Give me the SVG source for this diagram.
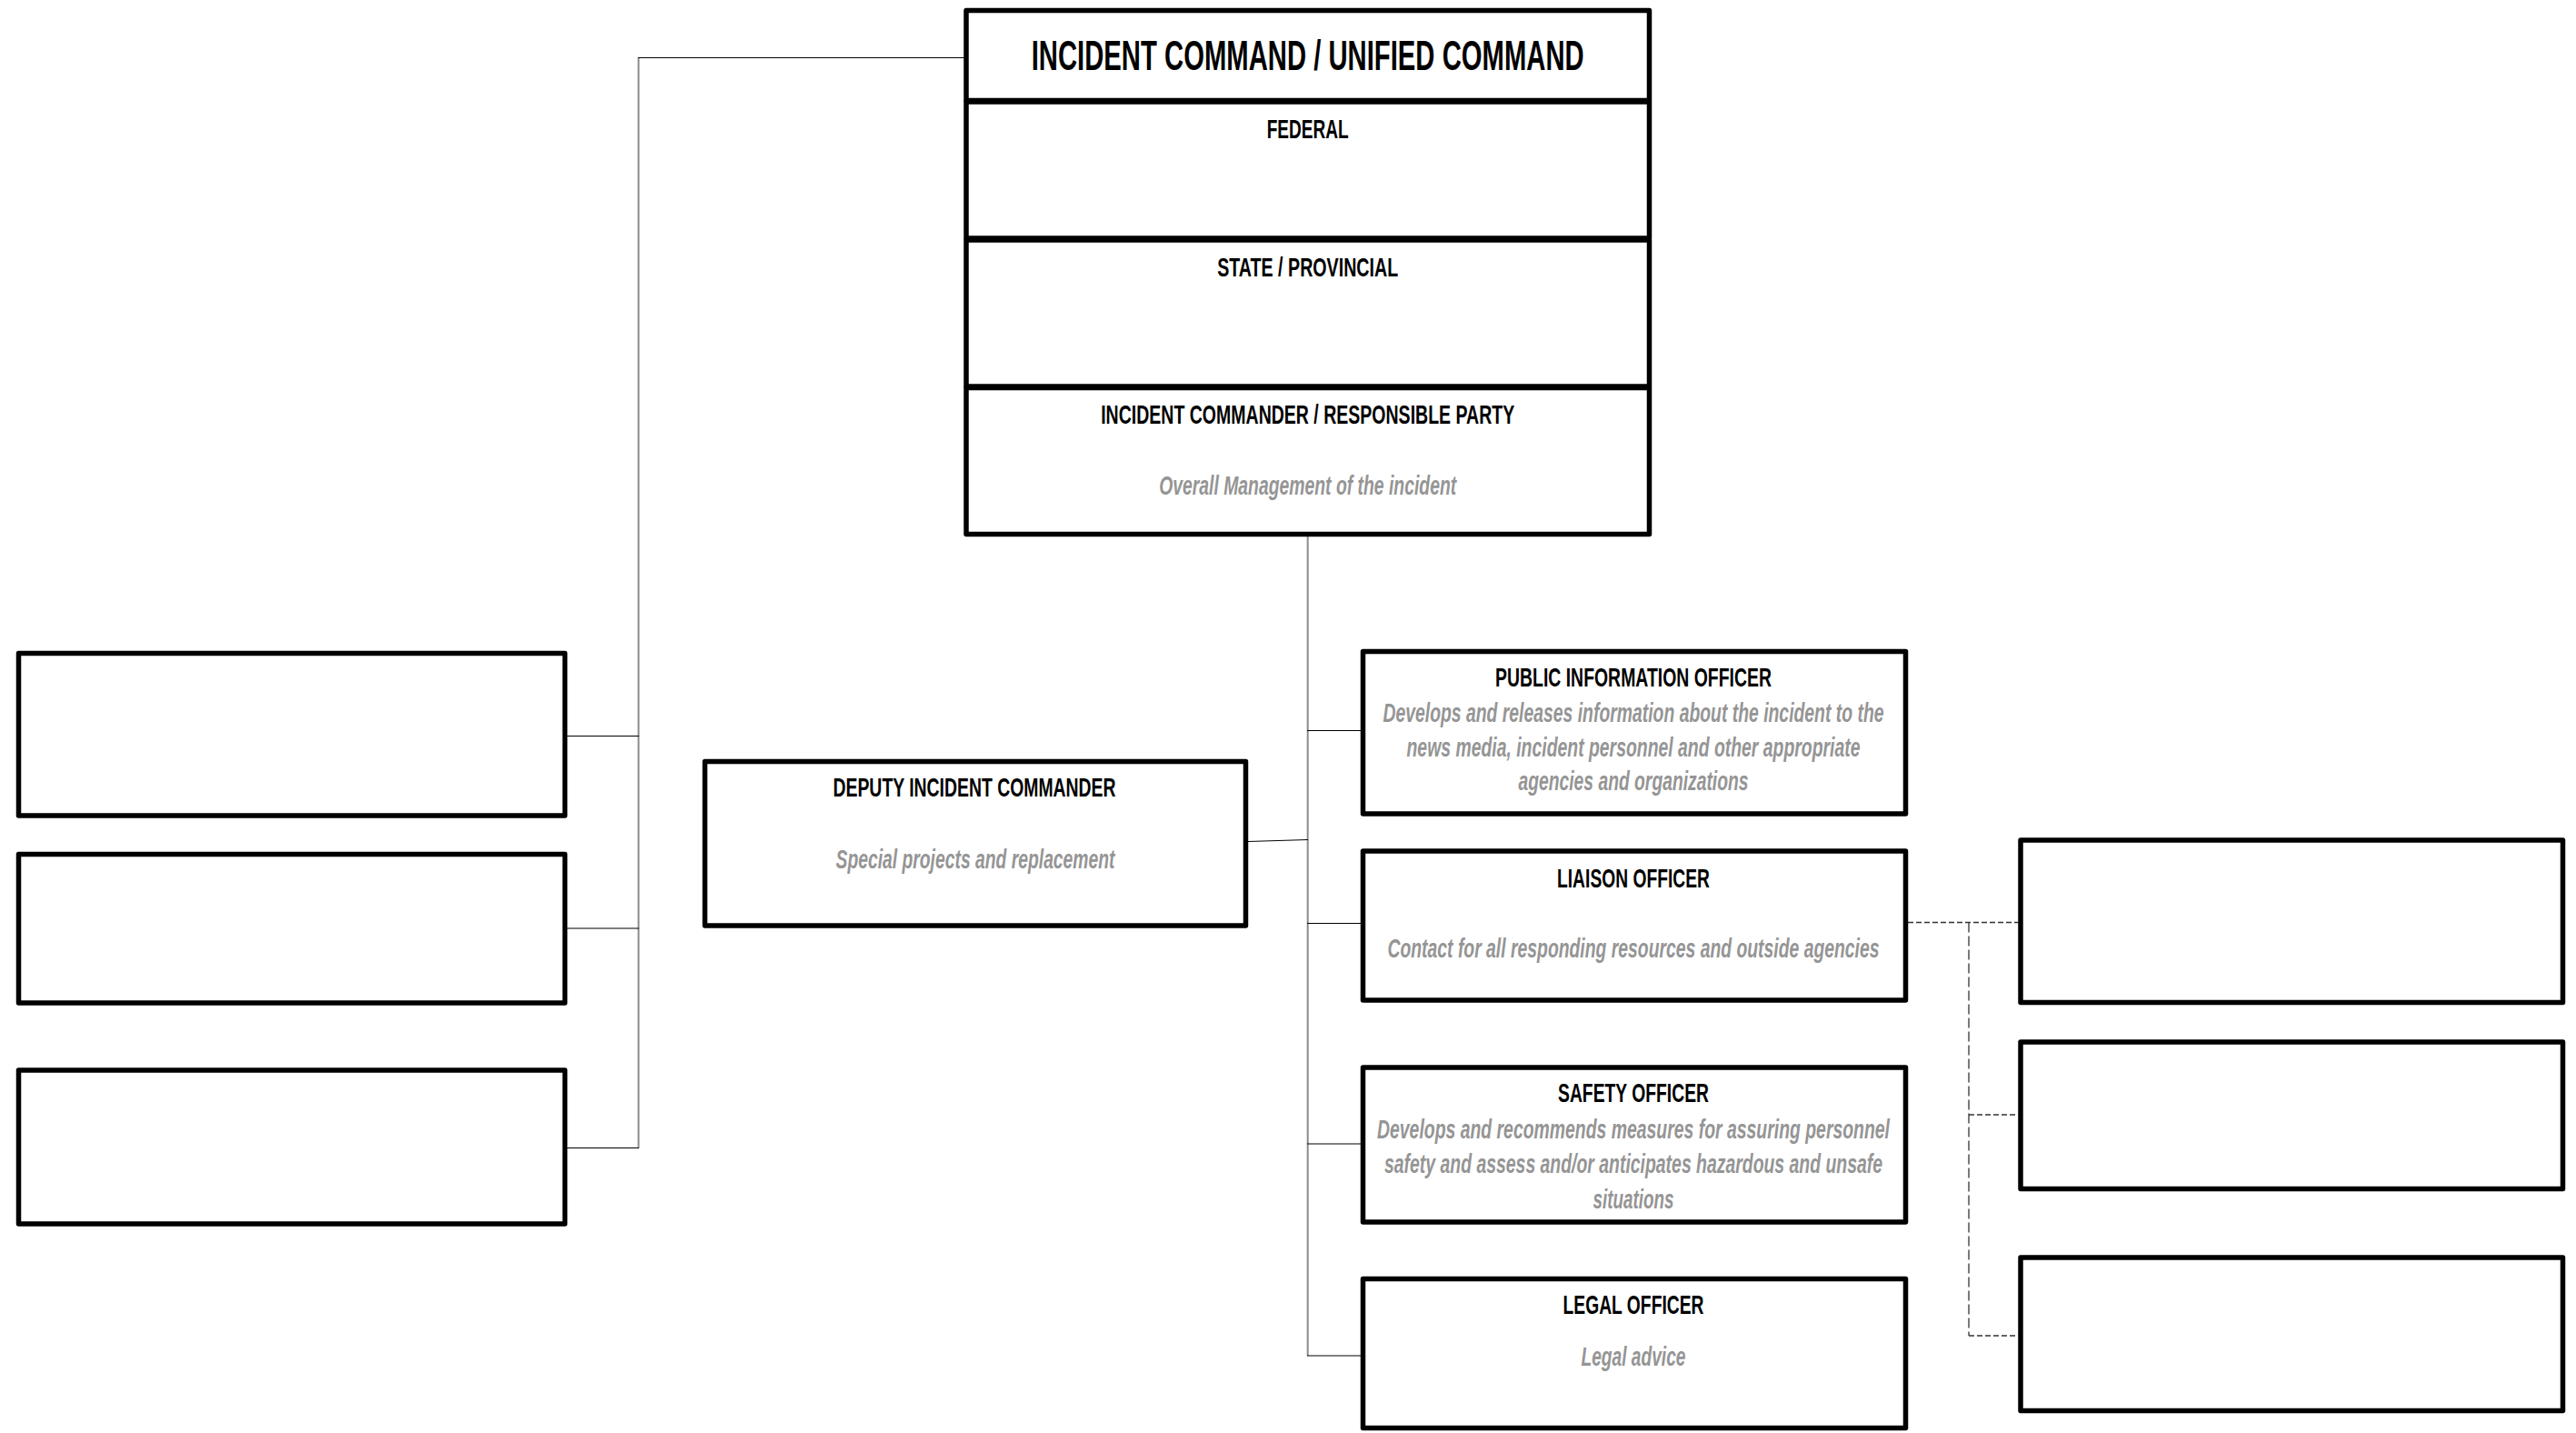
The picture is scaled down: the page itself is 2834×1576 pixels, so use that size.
<svg xmlns="http://www.w3.org/2000/svg" width="2834" height="1576" viewBox="0 0 2834 1576">
  <style>
    .box { fill: #ffffff; stroke: #000000; stroke-width: 5.5; stroke-linejoin: round; }
    .ttl { font-family: "Liberation Sans Narrow", "Liberation Sans", Arial, sans-serif; font-weight: bold; fill: #000000; text-anchor: middle; font-size: 30px; }
    .big { font-size: 46px; }
    .dsc { font-family: "Liberation Sans Narrow", "Liberation Sans", Arial, sans-serif; font-weight: bold; font-style: italic; fill: #959595; text-anchor: middle; font-size: 30px; }
    .h { stroke: #000000; stroke-width: 1.2; fill: none; }
    .v { stroke: #8c8c8c; stroke-width: 2; fill: none; }
    .dh { stroke: #333333; stroke-width: 1.3; stroke-dasharray: 6 3; fill: none; }
    .dv { stroke: #333333; stroke-width: 1.3; stroke-dasharray: 11 4; fill: none; }
  </style>
  <rect width="2834" height="1576" fill="#ffffff"/>

  <!-- connectors -->
  <g id="connectors">
    <!-- command to left column -->
    <line class="v" x1="702.5" y1="63" x2="702.5" y2="1262.5"/>
    <line class="h" x1="1061" y1="63.5" x2="702" y2="63.5"/>
    <line class="h" x1="624" y1="809.5" x2="703" y2="809.5"/>
    <line class="h" x1="624" y1="1021" x2="703" y2="1021"/>
    <line class="h" x1="624" y1="1262.5" x2="703" y2="1262.5"/>
    <!-- command to staff -->
    <line class="v" x1="1438.7" y1="590" x2="1438.7" y2="1491"/>
    <line class="h" x1="1438" y1="803.5" x2="1497" y2="803.5"/>
    <line class="h" x1="1373" y1="925.5" x2="1439" y2="923.5"/>
    <line class="h" x1="1438" y1="1015.5" x2="1497" y2="1015.5"/>
    <line class="h" x1="1438" y1="1258" x2="1497" y2="1258"/>
    <line class="h" x1="1438" y1="1491" x2="1497" y2="1491"/>
    <!-- liaison to agency representatives -->
    <line class="dh" x1="2099" y1="1014.5" x2="2220.5" y2="1014.5"/>
    <line class="dv" x1="2166" y1="1014.5" x2="2166" y2="1469"/>
    <line class="dh" x1="2166" y1="1226" x2="2220.5" y2="1226"/>
    <line class="dh" x1="2166" y1="1469" x2="2220.5" y2="1469"/>
  </g>

  <!-- incident command / unified command -->
  <g id="command">
    <rect class="box" x="1063" y="11.5" width="751.5" height="99"/>
    <rect class="box" x="1063" y="112" width="751.5" height="150"/>
    <rect class="box" x="1063" y="264" width="751.5" height="161"/>
    <rect class="box" x="1063" y="426.5" width="751.5" height="161"/>
    <text class="ttl big" x="1438.7" y="76.5" textLength="608" lengthAdjust="spacingAndGlyphs">INCIDENT COMMAND / UNIFIED COMMAND</text>
    <text class="ttl" x="1438.7" y="152" textLength="90" lengthAdjust="spacingAndGlyphs">FEDERAL</text>
    <text class="ttl" x="1438.7" y="304" textLength="199" lengthAdjust="spacingAndGlyphs">STATE / PROVINCIAL</text>
    <text class="ttl" x="1438.7" y="466" textLength="455" lengthAdjust="spacingAndGlyphs">INCIDENT COMMANDER / RESPONSIBLE PARTY</text>
    <text class="dsc" x="1438.7" y="543.5" textLength="327" lengthAdjust="spacingAndGlyphs">Overall Management of the incident</text>
  </g>

  <!-- left column -->
  <g id="left-1"><rect class="box" x="20.5" y="718.5" width="601" height="178.5"/></g>
  <g id="left-2"><rect class="box" x="20.5" y="939.5" width="601" height="163.5"/></g>
  <g id="left-3"><rect class="box" x="20.5" y="1177" width="601" height="169"/></g>

  <!-- deputy -->
  <g id="deputy">
    <rect class="box" x="775.5" y="837.5" width="595" height="180.5"/>
    <text class="ttl" x="1072" y="876" textLength="311" lengthAdjust="spacingAndGlyphs">DEPUTY INCIDENT COMMANDER</text>
    <text class="dsc" x="1073" y="955" textLength="307" lengthAdjust="spacingAndGlyphs">Special projects and replacement</text>
  </g>

  <!-- public information officer -->
  <g id="pio">
    <rect class="box" x="1499.5" y="716.5" width="597" height="178.5"/>
    <text class="ttl" x="1797" y="755" textLength="304" lengthAdjust="spacingAndGlyphs">PUBLIC INFORMATION OFFICER</text>
    <text class="dsc" x="1797" y="794" textLength="551" lengthAdjust="spacingAndGlyphs">Develops and releases information about the incident to the</text>
    <text class="dsc" x="1797" y="831.7" textLength="499" lengthAdjust="spacingAndGlyphs">news media, incident personnel and other appropriate</text>
    <text class="dsc" x="1797" y="869.3" textLength="253" lengthAdjust="spacingAndGlyphs">agencies and organizations</text>
  </g>

  <!-- liaison officer -->
  <g id="liaison">
    <rect class="box" x="1499.5" y="936" width="597" height="164"/>
    <text class="ttl" x="1797" y="976" textLength="168" lengthAdjust="spacingAndGlyphs">LIAISON OFFICER</text>
    <text class="dsc" x="1797" y="1052.7" textLength="541" lengthAdjust="spacingAndGlyphs">Contact for all responding resources and outside agencies</text>
  </g>

  <!-- safety officer -->
  <g id="safety">
    <rect class="box" x="1499.5" y="1174" width="597" height="170"/>
    <text class="ttl" x="1797" y="1212" textLength="166" lengthAdjust="spacingAndGlyphs">SAFETY OFFICER</text>
    <text class="dsc" x="1797" y="1251.7" textLength="564" lengthAdjust="spacingAndGlyphs">Develops and recommends measures for assuring personnel</text>
    <text class="dsc" x="1797" y="1290" textLength="548" lengthAdjust="spacingAndGlyphs">safety and assess and/or anticipates hazardous and unsafe</text>
    <text class="dsc" x="1797" y="1329.3" textLength="89" lengthAdjust="spacingAndGlyphs">situations</text>
  </g>

  <!-- legal officer -->
  <g id="legal">
    <rect class="box" x="1499.5" y="1406.5" width="597" height="164"/>
    <text class="ttl" x="1797" y="1445" textLength="155" lengthAdjust="spacingAndGlyphs">LEGAL OFFICER</text>
    <text class="dsc" x="1797" y="1501.7" textLength="115" lengthAdjust="spacingAndGlyphs">Legal advice</text>
  </g>

  <!-- agency representatives -->
  <g id="right-1"><rect class="box" x="2223" y="924" width="596.5" height="178.5"/></g>
  <g id="right-2"><rect class="box" x="2223" y="1146" width="596.5" height="161.5"/></g>
  <g id="right-3"><rect class="box" x="2223" y="1383" width="596.5" height="168.5"/></g>
</svg>
